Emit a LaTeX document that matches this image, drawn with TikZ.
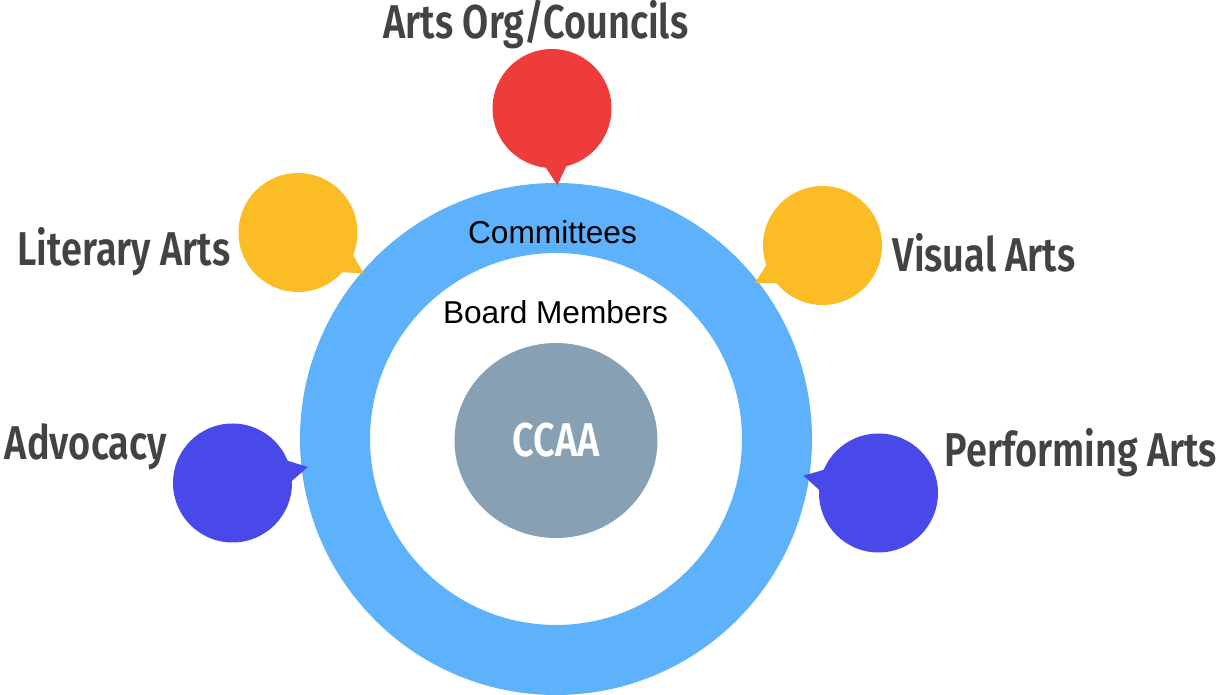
\documentclass[tikz,border=0pt]{standalone}
\usepackage{fontspec}
\setmainfont{Liberation Sans}
\newfontfamily\firacond{Fira Sans SemiBold}[FakeStretch=0.8]

\definecolor{ringblue}{HTML}{5EB1FB}
\definecolor{coregray}{HTML}{87A0B4}
\definecolor{bubred}{HTML}{EE3B3B}
\definecolor{bubyellow}{HTML}{FBBC26}
\definecolor{bubblue}{HTML}{4849E8}
\definecolor{labelgray}{HTML}{434343}

\tikzset{
  area label/.style={font=\firacond\fontsize{27}{30}\selectfont, text=labelgray, anchor=base, inner sep=0pt},
  ring label/.style={font=\fontsize{18}{20}\selectfont, anchor=base, inner sep=0pt}
}

\begin{document}
\begin{tikzpicture}[x=0.02cm, y=-0.02cm]
    \useasboundingbox (0,0) rectangle (1218,695);

    % Anillo de comités y círculo central
    \fill[ringblue, even odd rule] (556,439) circle (256) circle (186);
    \fill[coregray] (556,440.5) ellipse (101.5 and 97.5);

    % Burbujas con su punta hacia el anillo
    \foreach \x/\y/\a/\col in {552/108.5/86/bubred, 298/232.5/32/bubyellow, 822.5/245.5/151/bubyellow, 232.5/483/-12/bubblue, 878.5/493/193/bubblue} {
        \fill[\col] (\x,\y) circle (59.5);
        \fill[\col, shift={(\x,\y)}] (\a-12:57) -- (\a:77) -- (\a+12:57) -- cycle;
    }

    % Etiquetas de las áreas
    \node[area label] (artsorg) at (536,39) {Arts Org/Councils};
    \node[area label] (literary) at (124,266) {Literary Arts};
    \node[area label] (visual) at (984,272) {Visual Arts};
    \node[area label] (advocacy) at (86,460) {Advocacy};
    \node[area label] (performing) at (1081,467) {Performing Arts};

    % Textos del anillo y del centro
    \node[ring label] (committees) at (552.5,244) {Committees};
    \node[ring label] (board) at (555.5,324) {Board Members};
    \node[area label, text=white] (ccaa) at (556,457) {CCAA};

\end{tikzpicture}
\end{document}
